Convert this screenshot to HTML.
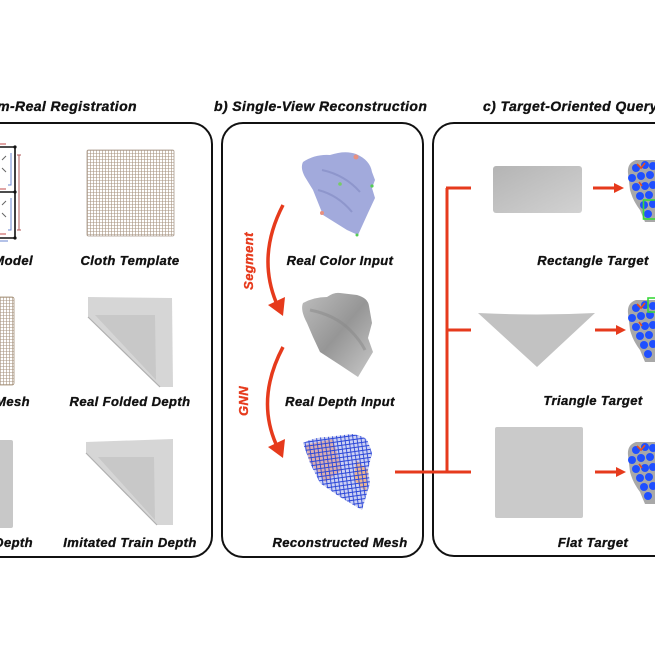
<!DOCTYPE html>
<html><head><meta charset="utf-8"><style>
html,body{margin:0;padding:0;background:#fff;}
svg{display:block;}
text{font-family:"Liberation Sans",sans-serif;font-weight:bold;font-style:italic;fill:#111;stroke:#111;stroke-width:0.35px;letter-spacing:0.4px;}
</style></head><body>
<svg width="655" height="655" viewBox="0 0 655 655" xmlns="http://www.w3.org/2000/svg">
<defs>
<pattern id="grid" width="3" height="3" patternUnits="userSpaceOnUse">
<rect width="3" height="3" fill="#fff"/>
<path d="M0 0.5H3M0.5 0V3" stroke="#a89480" stroke-width="0.6"/>
</pattern>
<pattern id="bgrid" width="4" height="4" patternUnits="userSpaceOnUse" patternTransform="rotate(-8)">
<path d="M0 0.5H4M0.5 0V4" stroke="#2a46d8" stroke-width="0.9"/>
</pattern>
<linearGradient id="dg" x1="0" y1="0" x2="1" y2="1">
<stop offset="0" stop-color="#bdbdbd"/><stop offset="0.5" stop-color="#969696"/><stop offset="1" stop-color="#c8c8c8"/>
</linearGradient>
<linearGradient id="rg" x1="0" y1="0" x2="1" y2="1">
<stop offset="0" stop-color="#b4b4b4"/><stop offset="1" stop-color="#d2d2d2"/>
</linearGradient>
<clipPath id="meshclip"><path d="M303,443 Q315,437 327,437 L352,434 Q366,436 368,442 L372,453 L368,470 L370,483 L362,510 L340,497 L320,483 L310,463 Z"/></clipPath>
<g id="blob">
<path d="M655,160 L636,160 Q627,163 628,173 L630,190 Q633,201 640,210 L645,222 L655,222 Z" fill="#a8a8a8"/>
<g fill="#1f4fff">
<circle cx="636" cy="168" r="4"/><circle cx="645" cy="165" r="4"/><circle cx="653" cy="166" r="4"/>
<circle cx="632" cy="178" r="4"/><circle cx="641" cy="176" r="4"/><circle cx="650" cy="175" r="4"/>
<circle cx="636" cy="187" r="4"/><circle cx="645" cy="186" r="4"/><circle cx="653" cy="185" r="4"/>
<circle cx="640" cy="196" r="4"/><circle cx="649" cy="195" r="4"/>
<circle cx="644" cy="205" r="4"/><circle cx="653" cy="204" r="4"/><circle cx="648" cy="214" r="4"/>
</g>
<path d="M637,164 L641,168 L645,163 M639,182 L642,186" stroke="#e8501e" stroke-width="1.6" fill="none"/>
</g>
</defs>

<!-- Titles -->
<text x="137" y="111" font-size="14" text-anchor="end">a) Sim-Real Registration</text>
<text x="214" y="111" font-size="14">b) Single-View Reconstruction</text>
<text x="483" y="111" font-size="14">c) Target-Oriented Query</text>

<!-- Boxes -->
<rect x="-30" y="123" width="242" height="434" rx="21" fill="none" stroke="#111" stroke-width="2"/>
<rect x="222" y="123" width="201" height="434" rx="21" fill="none" stroke="#111" stroke-width="2"/>
<rect x="433" y="123" width="260" height="433" rx="21" fill="none" stroke="#111" stroke-width="2"/>

<!-- Box a images -->
<g stroke-width="1" fill="none">
<path d="M0,147H15V238H0M0,192H15" stroke="#111" stroke-width="1.6"/>
<circle cx="15" cy="147" r="1.6" fill="#111"/><circle cx="15" cy="192" r="1.6" fill="#111"/><circle cx="15" cy="238" r="1.6" fill="#111"/>
<path d="M19,155V230M17,155H21M17,230H21" stroke="#b05a5a"/>
<path d="M0,144H6M0,189H6M0,234H6" stroke="#c04848"/>
<path d="M11,153V185H8M11,198V230H8M0,241H8" stroke="#6a84d0"/>
<path d="M2,160L6,156M2,168L6,172M2,205L6,201M2,213L6,217" stroke="#666"/>
</g>
<rect x="-4" y="297" width="18" height="88" rx="2" fill="url(#grid)" stroke="#a08a70" stroke-width="0.8"/>
<rect x="-4" y="440" width="17" height="88" rx="2" fill="#c8c8c8"/>

<rect x="87" y="150" width="87" height="86" rx="1.5" fill="url(#grid)" stroke="#a8988a" stroke-width="0.8"/>

<path d="M88,297 L172,298 L173,387 L160,387 L88,317 Z" fill="#d6d6d6"/>
<path d="M95,315 L155,315 L156,380 Z" fill="#c8c8c8"/>
<path d="M88,317 L160,387" stroke="#b0b0b0" stroke-width="1.2"/>

<path d="M86,442 L173,439 L173,525 L157,525 L86,453 Z" fill="#d6d6d6"/>
<path d="M98,457 L154,457 L155,520 Z" fill="#c8c8c8"/>
<path d="M86,453 L157,525" stroke="#b0b0b0" stroke-width="1.2"/>

<!-- Box a labels -->
<text x="33" y="265" font-size="13" text-anchor="end">Spring Model</text>
<text x="130" y="265" font-size="13" text-anchor="middle">Cloth Template</text>
<text x="30" y="406" font-size="13" text-anchor="end">Template Mesh</text>
<text x="130" y="406" font-size="13" text-anchor="middle">Real Folded Depth</text>
<text x="33" y="547" font-size="13" text-anchor="end">Flat Depth</text>
<text x="130" y="547" font-size="13" text-anchor="middle">Imitated Train Depth</text>

<!-- Box b images -->
<path d="M303,162 Q315,154 330,155 Q345,150 356,154 Q370,160 372,172 L375,180 L372,188 L375,198 L368,213 L358,235 L347,230 L323,215 L317,200 L313,190 L305,177 Q300,168 303,162 Z" fill="#a2aadc"/>
<path d="M322,170 Q345,175 360,192 M318,190 Q338,195 352,212" stroke="#8e96cc" stroke-width="2" fill="none"/>
<circle cx="356" cy="157" r="2.5" fill="#e89080"/><circle cx="340" cy="184" r="1.8" fill="#7c6"/><circle cx="372" cy="186" r="1.6" fill="#5c5"/><circle cx="322" cy="213" r="2" fill="#e89080"/><circle cx="357" cy="235" r="1.5" fill="#5c5"/>

<path d="M303,303 Q314,297 327,297 Q334,292 340,293 L357,295 Q368,298 369,306 L372,323 L368,338 L373,352 L358,377 L340,365 L320,352 L313,337 L307,323 Q300,310 303,303 Z" fill="url(#dg)"/>
<path d="M310,310 Q335,315 350,330 Q360,340 365,350" stroke="#888" stroke-width="3" fill="none" opacity="0.5"/>

<path d="M303,443 Q315,437 327,437 L352,434 Q366,436 368,442 L372,453 L368,470 L370,483 L362,510 L340,497 L320,483 L310,463 Z" fill="#cdd1f2"/>
<g clip-path="url(#meshclip)">
<path d="M305,445 L333,439 L342,470 L325,482 L310,462 Z" fill="#e0a090" opacity="0.7"/>
<path d="M356,460 L368,470 L366,492 L354,480 Z" fill="#f0b080" opacity="0.85"/>
<rect x="290" y="420" width="100" height="100" fill="url(#bgrid)"/>
</g>

<!-- Curved arrows -->
<path d="M283,205 Q257,255 276,302" stroke="#e63a1c" stroke-width="3.5" fill="none"/>
<polygon points="268,305 285,297 283,316" fill="#e63a1c"/>
<path d="M283,347 Q256,398 276,444" stroke="#e63a1c" stroke-width="3.5" fill="none"/>
<polygon points="268,447 285,439 283,458" fill="#e63a1c"/>
<text transform="translate(253,261) rotate(-90)" font-size="13" text-anchor="middle" style="fill:#e63a1c;stroke:#e63a1c">Segment</text>
<text transform="translate(248,401) rotate(-90)" font-size="13" text-anchor="middle" style="fill:#e63a1c;stroke:#e63a1c">GNN</text>

<!-- Box b labels -->
<text x="340" y="265" font-size="13" text-anchor="middle">Real Color Input</text>
<text x="340" y="406" font-size="13" text-anchor="middle">Real Depth Input</text>
<text x="340" y="547" font-size="13" text-anchor="middle">Reconstructed Mesh</text>

<!-- Red connectors -->
<g stroke="#e63a1c" stroke-width="3" fill="none">
<path d="M395,472 H471"/>
<path d="M447,188 V472"/>
<path d="M446,188 H471 M446,330 H471"/>
<path d="M593,188 H616 M595,330 H618 M595,472 H618"/>
</g>
<g fill="#e63a1c">
<polygon points="614,183 624,188 614,193"/>
<polygon points="616,325 626,330 616,335"/>
<polygon points="616,467 626,472 616,477"/>
</g>

<!-- Box c target images -->
<rect x="493" y="166" width="89" height="47" rx="3" fill="url(#rg)"/>
<path d="M478,313 Q537,316 595,313 L537,367 Z" fill="#c2c2c2"/>
<rect x="495" y="427" width="88" height="91" rx="2" fill="#cacaca"/>

<!-- Blobs -->
<use href="#blob"/>
<use href="#blob" transform="translate(0,140)"/>
<use href="#blob" transform="translate(0,282)"/>
<rect x="643.5" y="200" width="14" height="19" fill="none" stroke="#3ad83a" stroke-width="1.6"/>
<rect x="648" y="298" width="10" height="14" fill="none" stroke="#3ad83a" stroke-width="1.6"/>

<!-- Box c labels -->
<text x="593" y="265" font-size="13" text-anchor="middle">Rectangle Target</text>
<text x="593" y="405" font-size="13" text-anchor="middle">Triangle Target</text>
<text x="593" y="547" font-size="13" text-anchor="middle">Flat Target</text>
</svg>
</body></html>
